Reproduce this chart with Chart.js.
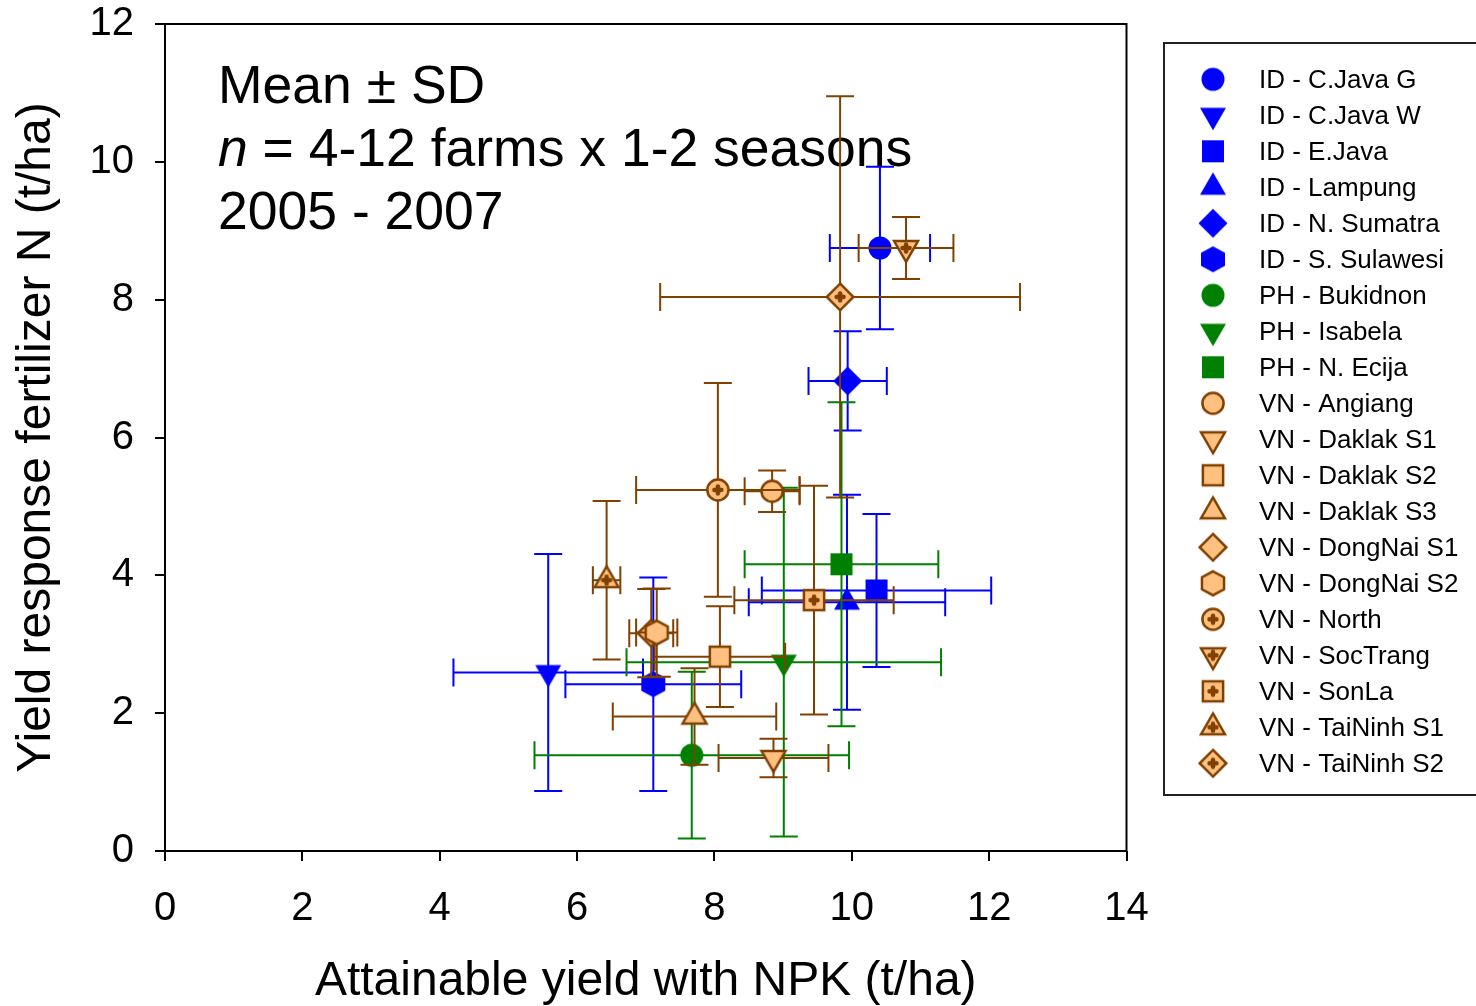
<!DOCTYPE html>
<html>
<head>
<meta charset="utf-8">
<title>Yield response to fertilizer N vs attainable yield</title>
<script src="https://cdn.jsdelivr.net/npm/chart.js@4.4.1/dist/chart.umd.min.js"></script>
<style>
  html, body { margin: 0; padding: 0; background: #fff; }
</style>
</head>
<body>
<canvas id="chart" width="1476" height="1006"></canvas>
<script>
const FONT = '"Liberation Sans", Arial, Helvetica, sans-serif';

// Sites, in legend order
const siteNames = [
    'ID - C.Java G', 'ID - C.Java W', 'ID - E.Java', 'ID - Lampung', 'ID - N. Sumatra', 'ID - S. Sulawesi',
    'PH - Bukidnon', 'PH - Isabela', 'PH - N. Ecija',
    'VN - Angiang', 'VN - Daklak S1', 'VN - Daklak S2', 'VN - Daklak S3', 'VN - DongNai S1', 'VN - DongNai S2',
    'VN - North', 'VN - SocTrang', 'VN - SonLa', 'VN - TaiNinh S1', 'VN - TaiNinh S2'
];
const siteSymbols = [
    'circle', 'triDown', 'square', 'triUp', 'diamond', 'hexagon',
    'circle', 'triDown', 'square',
    'circle', 'triDown', 'square', 'triUp', 'diamond', 'hexagon',
    'circlePlus', 'triDownPlus', 'squarePlus', 'triUpPlus', 'diamondPlus'
];

// Attainable yield with NPK (t/ha): mean and SD
const attainableYield   = [10.41, 5.58, 10.36, 9.93, 9.94, 7.11, 7.67, 9.01, 9.85, 8.84, 8.86, 8.08, 7.71, 7.08, 7.16, 8.05, 10.79, 9.45, 6.43, 9.83];
const attainableYieldSd = [0.73, 1.38, 1.67, 1.43, 0.57, 1.28, 2.29, 2.29, 1.41, 0.40, 0.80, 0.95, 1.19, 0.32, 0.30, 1.19, 0.69, 1.16, 0.20, 2.62];

// Yield response to fertilizer N (t/ha): mean and SD
const yieldResponse   = [8.75, 2.59, 3.78, 3.61, 6.82, 2.42, 1.39, 2.74, 4.16, 5.22, 1.35, 2.82, 1.95, 3.16, 3.17, 5.24, 8.75, 3.64, 3.93, 8.04];
const yieldResponseSd = [1.18, 1.72, 1.11, 1.56, 0.72, 1.55, 1.21, 2.53, 2.35, 0.30, 0.28, 0.73, 0.70, 0.64, 0.64, 1.55, 0.45, 1.66, 1.15, 2.91];

const xTicks = [0, 2, 4, 6, 8, 10, 12, 14];
const yTicks = [0, 2, 4, 6, 8, 10, 12];
const noteLines = ['Mean ± SD', ' = 4-12 farms x 1-2 seasons', '2005 - 2007'];

// Colours per country
const countryColours = {
    ID: { fill: '#0000ff', stroke: null, bar: '#0000ff' },
    PH: { fill: '#008000', stroke: null, bar: '#008000' },
    VN: { fill: '#ffc080', stroke: '#804000', bar: '#804000' }
};

function countryOf(i) {
    return siteNames[i].slice(0, 2);
}

// Build a small canvas used as the point style
function makeMarker(symbol, col) {
    const c = document.createElement('canvas');
    c.width = 40; c.height = 40;
    const g = c.getContext('2d');
    g.translate(20, 20);
    const s = col.stroke ? 0.92 : 1;
    const base = symbol.replace('Plus', '');
    g.beginPath();
    if (base === 'circle') {
        g.arc(0, 0, 11.5 * s, 0, Math.PI * 2);
    } else if (base === 'square') {
        g.rect(-11 * s, -11 * s, 22 * s, 22 * s);
    } else if (base === 'triUp') {
        g.moveTo(0, -15 * s); g.lineTo(13 * s, 7.5 * s); g.lineTo(-13 * s, 7.5 * s); g.closePath();
    } else if (base === 'triDown') {
        g.moveTo(0, 15 * s); g.lineTo(13 * s, -7.5 * s); g.lineTo(-13 * s, -7.5 * s); g.closePath();
    } else if (base === 'diamond') {
        g.moveTo(0, -14.5 * s); g.lineTo(14.5 * s, 0); g.lineTo(0, 14.5 * s); g.lineTo(-14.5 * s, 0); g.closePath();
    } else if (base === 'hexagon') {
        g.moveTo(0, -13 * s); g.lineTo(12 * s, -6.5 * s); g.lineTo(12 * s, 6.5 * s);
        g.lineTo(0, 13 * s); g.lineTo(-12 * s, 6.5 * s); g.lineTo(-12 * s, -6.5 * s); g.closePath();
    }
    g.fillStyle = col.fill;
    g.fill();
    if (col.stroke) {
        g.lineWidth = 2.5;
        g.strokeStyle = col.stroke;
        g.stroke();
    }
    if (symbol.endsWith('Plus')) {
        g.beginPath();
        g.moveTo(-3.5, 0); g.lineTo(3.5, 0);
        g.moveTo(0, -3.5); g.lineTo(0, 3.5);
        g.lineWidth = 4.5;
        g.lineCap = 'round';
        g.strokeStyle = col.stroke;
        g.stroke();
    }
    return c;
}

const markers = siteNames.map((n, i) => makeMarker(siteSymbols[i], countryColours[countryOf(i)]));

const datasets = siteNames.map((name, i) => ({
    label: name,
    data: [{ x: attainableYield[i], y: yieldResponse[i] }],
    pointStyle: markers[i],
    pointRadius: 12,
    pointHoverRadius: 12,
    order: -i   // later sites on top, like the original
}));

// Horizontal and vertical SD bars, drawn just before each site's symbol
const errorBarPlugin = {
    id: 'errorBars',
    beforeDatasetDraw(chart, args) {
        const i = args.index;
        const xs = chart.scales.x, ys = chart.scales.y;
        const ctx = chart.ctx;
        const cap = 14;
        const cx = xs.getPixelForValue(attainableYield[i]);
        const cy = ys.getPixelForValue(yieldResponse[i]);
        const x0 = xs.getPixelForValue(attainableYield[i] - attainableYieldSd[i]);
        const x1 = xs.getPixelForValue(attainableYield[i] + attainableYieldSd[i]);
        const y0 = ys.getPixelForValue(yieldResponse[i] - yieldResponseSd[i]);
        const y1 = ys.getPixelForValue(yieldResponse[i] + yieldResponseSd[i]);
        ctx.save();
        ctx.strokeStyle = countryColours[countryOf(i)].bar;
        ctx.lineWidth = 2;
        ctx.beginPath();
        ctx.moveTo(x0, cy); ctx.lineTo(x1, cy);
        ctx.moveTo(x0, cy - cap); ctx.lineTo(x0, cy + cap);
        ctx.moveTo(x1, cy - cap); ctx.lineTo(x1, cy + cap);
        ctx.moveTo(cx, y0); ctx.lineTo(cx, y1);
        ctx.moveTo(cx - cap, y0); ctx.lineTo(cx + cap, y0);
        ctx.moveTo(cx - cap, y1); ctx.lineTo(cx + cap, y1);
        ctx.stroke();
        ctx.restore();
    }
};

// Frame, note text and the boxed legend
const decorPlugin = {
    id: 'decor',
    beforeDatasetsDraw(chart) {
        const { ctx, chartArea: a } = chart;
        ctx.save();
        ctx.strokeStyle = '#000';
        ctx.lineWidth = 2;
        ctx.strokeRect(a.left, a.top, a.right - a.left, a.bottom - a.top);

        // note in the upper left
        ctx.fillStyle = '#000';
        ctx.textBaseline = 'alphabetic';
        ctx.textAlign = 'left';
        ctx.font = '53.5px ' + FONT;
        ctx.fillText(noteLines[0], 218, 103);
        ctx.font = 'italic 53.5px ' + FONT;
        ctx.fillText('n', 218, 166);
        const nw = ctx.measureText('n').width;
        ctx.font = '53.5px ' + FONT;
        ctx.fillText(noteLines[1], 218 + nw, 166);
        ctx.fillText(noteLines[2], 218, 229);
        ctx.restore();
    },
    afterDraw(chart) {
        const ctx = chart.ctx;
        ctx.save();
        ctx.strokeStyle = '#222';
        ctx.lineWidth = 2;
        ctx.strokeRect(1164, 43, 340, 752);
        ctx.fillStyle = '#000';
        ctx.font = '26px ' + FONT;
        ctx.textAlign = 'left';
        ctx.textBaseline = 'alphabetic';
        siteNames.forEach((name, i) => {
            const y = 79.3 + 36 * i;
            const m = markers[i];
            ctx.drawImage(m, 1213 - m.width / 2, y - m.height / 2);
            ctx.fillText(name, 1259, y + 9);
        });
        ctx.restore();
    }
};

const ctx = document.getElementById('chart').getContext('2d');
new Chart(ctx, {
    type: 'scatter',
    data: { datasets: datasets },
    options: {
        responsive: false,
        animation: false,
        devicePixelRatio: 1,
        layout: { padding: { left: 0, right: 349.5, top: 0, bottom: 0 } },
        plugins: {
            legend: { display: false },
            tooltip: { enabled: false }
        },
        scales: {
            x: {
                type: 'linear',
                min: 0,
                max: 14,
                afterFit: s => { s.height = 155; s.paddingLeft = 0; s.paddingRight = 0; },
                afterBuildTicks: s => { s.ticks = xTicks.map(v => ({ value: v })); },
                ticks: { font: { family: FONT, size: 40 }, color: '#000', padding: 24, maxRotation: 0 },
                grid: { drawOnChartArea: false, drawTicks: true, tickLength: 10, color: '#000', lineWidth: 2 },
                border: { display: false },
                title: {
                    display: true,
                    text: 'Attainable yield with NPK (t/ha)',
                    color: '#000',
                    font: { family: FONT, size: 48, lineHeight: 1 },
                    padding: { top: 0, bottom: 0 }
                }
            },
            y: {
                type: 'linear',
                min: 0,
                max: 12,
                afterFit: s => { s.width = 165; s.paddingTop = 24; s.paddingBottom = 0; },
                afterBuildTicks: s => { s.ticks = yTicks.map(v => ({ value: v })); },
                ticks: { font: { family: FONT, size: 40 }, color: '#000', padding: 21 },
                grid: { drawOnChartArea: false, drawTicks: true, tickLength: 10, color: '#000', lineWidth: 2 },
                border: { display: false },
                title: {
                    display: true,
                    text: 'Yield response fertilizer N (t/ha)',
                    color: '#000',
                    font: { family: FONT, size: 48, lineHeight: 1 },
                    padding: { top: 13, bottom: 0 }
                }
            }
        }
    },
    plugins: [errorBarPlugin, decorPlugin]
});
</script>
</body>
</html>
